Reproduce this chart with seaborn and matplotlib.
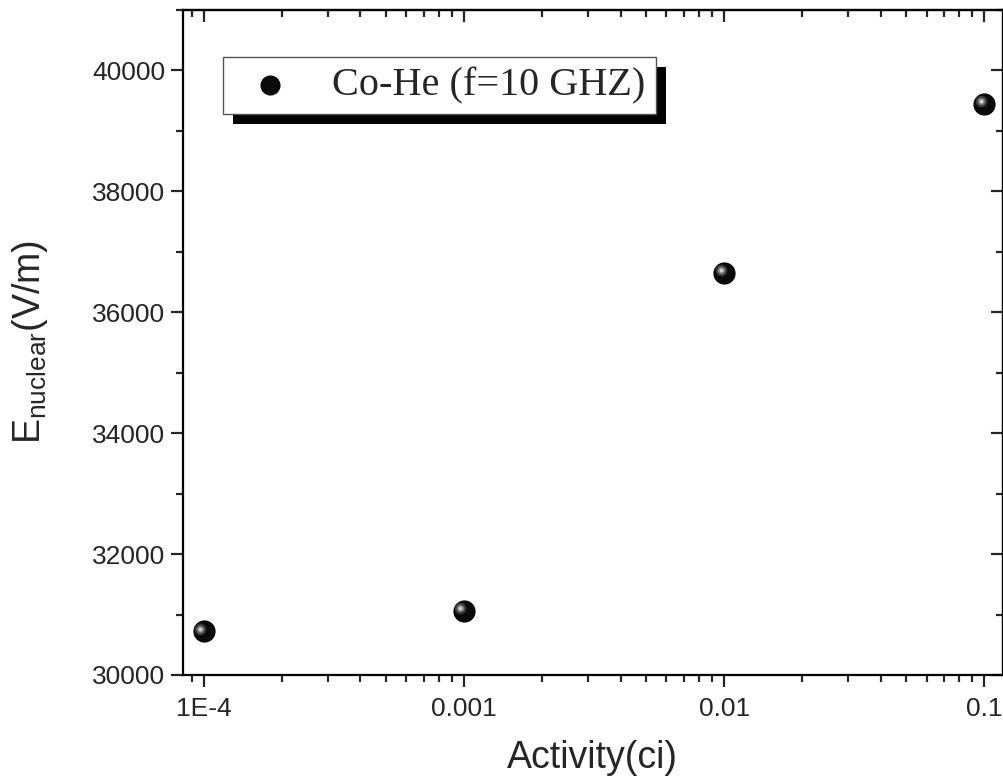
import matplotlib.patheffects as path_effects
import matplotlib.pyplot as plt
import matplotlib.transforms as mtransforms
import pandas as pd
import seaborn as sns
from matplotlib.ticker import MultipleLocator, LogLocator, NullFormatter

activity = [1e-4, 1e-3, 1e-2, 1e-1]
e_nuclear = [30720, 31060, 36650, 39450]
series_name = "Co-He (f=10 GHZ)"
x_ticks = [1e-4, 1e-3, 1e-2, 1e-1]
x_tick_labels = ["1E-4", "0.001", "0.01", "0.1"]
y_ticks = [30000, 32000, 34000, 36000, 38000, 40000]

df = pd.DataFrame({"Activity": activity, "E": e_nuclear})

sns.set_style("ticks")
plt.rcParams["font.family"] = ["Liberation Sans", "DejaVu Sans"]
plt.rcParams["mathtext.default"] = "regular"

fig = plt.figure(figsize=(10.04, 7.78), dpi=100)
ax = fig.add_axes([0.182, 0.1324, 0.817, 0.855])

sns.scatterplot(data=df, x="Activity", y="E", ax=ax, s=230, color="#0a0a0a",
                edgecolor="#000000", linewidth=0.8, label=series_name, zorder=3)

# sphere-like highlight, shifted up-left of each marker
shift = mtransforms.ScaledTranslation(-2.6 / 72, 1.8 / 72, fig.dpi_scale_trans)
ax.scatter(activity, e_nuclear, s=70, color="#3a3a3a", linewidth=0,
           transform=ax.transData + shift, zorder=4)
ax.scatter(activity, e_nuclear, s=30, color="#777777", linewidth=0,
           transform=ax.transData + shift, zorder=5)
ax.scatter(activity, e_nuclear, s=9, color="#cfcfcf", linewidth=0,
           transform=ax.transData + shift, zorder=6)

ax.set_xscale("log")
ax.set_xlim(8.3e-5, 0.118)
ax.set_ylim(30000, 41000)
ax.set_xticks(x_ticks, x_tick_labels)
ax.xaxis.set_minor_locator(LogLocator(base=10, subs=range(2, 10)))
ax.xaxis.set_minor_formatter(NullFormatter())
ax.set_yticks(y_ticks)
ax.yaxis.set_minor_locator(MultipleLocator(1000))

for side in ["left", "right", "top", "bottom"]:
    ax.spines[side].set_visible(True)
    ax.spines[side].set_linewidth(1.6)
    ax.spines[side].set_color("black")

ax.tick_params(which="major", direction="out", length=8.5, width=1.6, labelsize=19, pad=4)
ax.tick_params(which="minor", direction="out", length=5, width=1.6)
ax.tick_params(axis="x", which="major", pad=7)

top = ax.secondary_xaxis("top")
top.set_xticks(x_ticks)
top.xaxis.set_minor_locator(LogLocator(base=10, subs=range(2, 10)))
top.tick_params(which="major", direction="in", length=8.5, width=1.6, labeltop=False)
top.tick_params(which="minor", direction="in", length=5, width=1.6)
top.xaxis.set_minor_formatter(NullFormatter())
top.spines["top"].set_linewidth(1.6)

right = ax.secondary_yaxis("right")
right.set_yticks(y_ticks)
right.yaxis.set_minor_locator(MultipleLocator(1000))
right.tick_params(which="major", direction="in", length=8.5, width=1.6, labelright=False)
right.tick_params(which="minor", direction="in", length=5, width=1.6)
right.spines["right"].set_linewidth(1.6)

ax.set_xlabel("Activity(ci)", fontsize=27, labelpad=14)
ax.set_ylabel("E$_{nuclear}$(V/m)", fontsize=27, labelpad=30)

leg = ax.legend(loc="upper left", bbox_to_anchor=(0.049, 0.929), borderaxespad=0,
                fancybox=False, frameon=True, edgecolor="#555555", framealpha=1,
                prop={"family": "Liberation Serif", "size": 29},
                handletextpad=0.62, borderpad=0.25, handlelength=1.85, markerscale=0.9)
leg.get_frame().set_linewidth(1.0)
leg.legendPatch.set_path_effects([
    path_effects.SimplePatchShadow(offset=(7, -7), shadow_rgbFace="black", alpha=1),
    path_effects.Normal(),
])

fig.savefig("out.png", dpi=100)
